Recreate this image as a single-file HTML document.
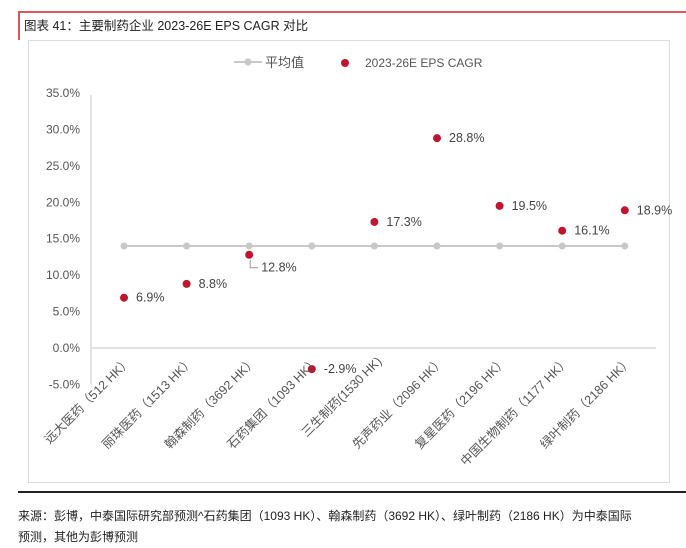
<!DOCTYPE html>
<html><head><meta charset="utf-8"><style>
body{margin:0;width:686px;height:547px;background:#fff;font-family:"Liberation Sans","Noto Sans CJK SC",sans-serif;position:relative;overflow:hidden}
.abs{position:absolute}
</style></head><body>
<div class="abs" style="left:18px;top:11px;width:668px;height:2px;background:#d9595c"></div>
<div class="abs" style="left:18px;top:11px;width:2px;height:29px;background:#d9595c"></div>
<div class="abs" style="left:24px;top:15px;font-size:12.5px;color:#222">图表 41：主要制药企业 2023-26E EPS CAGR 对比</div>
<div class="abs" style="left:28px;top:40px;width:642px;height:443px;border:1px solid #ddd;box-sizing:border-box"></div>
<svg class="abs" style="left:0;top:0" width="686" height="547" id="chart"></svg>
<div class="abs" style="left:18px;top:491px;width:668px;height:1.5px;background:#222"></div>
<div class="abs" style="left:18px;top:506px;width:668px;font-size:12px;line-height:21px;color:#222;white-space:nowrap">来源：彭博，中泰国际研究部预测^石药集团（1093 HK）、翰森制药（3692 HK）、绿叶制药（2186 HK）为中泰国际<br>预测，其他为彭博预测</div>
<script>
const categories=["远大医药（512 HK）","丽珠医药（1513 HK）","翰森制药（3692 HK）","石药集团（1093 HK）","三生制药(1530 HK)","先声药业（2096 HK）","复星医药（2196 HK）","中国生物制药（1177 HK）","绿叶制药（2186 HK）"];
const cagr=[6.9,8.8,12.8,-2.9,17.3,28.8,19.5,16.1,18.9];
const avg=[14.0,14.0,14.0,14.0,14.0,14.0,14.0,14.0,14.0];
const yTicks=[-5,0,5,10,15,20,25,30,35];
const svg=document.getElementById('chart');const NS='http://www.w3.org/2000/svg';
function mk(t,a,txt){const e=document.createElementNS(NS,t);for(const k in a)e.setAttribute(k,a[k]);if(txt!=null)e.textContent=txt;svg.appendChild(e);return e;}
const y=v=>348-v*7.286;
const x=i=>124+i*62.6;
yTicks.forEach(t=>{const e=mk('text',{x:80,y:y(t)+4,'text-anchor':'end','font-size':12,fill:'#555'},t.toFixed(1)+'%');

});
let a=mk('line',{x1:91,y1:y(35)+2,x2:91,y2:y(-5),stroke:'#d9d9d9','stroke-width':1.5});

a=mk('line',{x1:91,y1:y(0),x2:656,y2:y(0),stroke:'#d9d9d9','stroke-width':1.5});

let l=mk('polyline',{points:avg.map((v,i)=>x(i)+','+y(v)).join(' '),fill:'none',stroke:'#c8c8c8','stroke-width':2});

avg.forEach((v,i)=>{const c=mk('circle',{cx:x(i),cy:y(v),r:3.5,fill:'#c8c8c8'});

});
cagr.forEach((v,i)=>{const c=mk('circle',{cx:x(i),cy:y(v),r:4,fill:'#c0152f'});


let lx=x(i)+12,ly=y(v)+4;
if(i===2){lx=x(i)+12;ly=y(v)+17;mk('polyline',{points:`${x(i)+1},${y(v)+5} ${x(i)+1},${y(v)+13} ${x(i)+9},${y(v)+13}`,fill:'none',stroke:'#999','stroke-width':1});}
const t=mk('text',{x:lx,y:ly,'font-size':12.5,fill:'#444'},v.toFixed(1)+'%');

});
categories.forEach((c,i)=>{const t=mk('text',{x:x(i)+8,y:362,'text-anchor':'end','font-size':12.5,fill:'#555',transform:`rotate(-45 ${x(i)+8} 362)`},c);

});
let g=mk('line',{x1:234,y1:62,x2:262,y2:62,stroke:'#c8c8c8','stroke-width':2});

mk('circle',{cx:248,cy:62,r:3.5,fill:'#c8c8c8'});
g=mk('text',{x:265,y:67,'font-size':13,fill:'#555'},'平均值');

mk('circle',{cx:345,cy:63,r:4,fill:'#c0152f'});
g=mk('text',{x:365,y:67,'font-size':12,fill:'#555'},'2023-26E EPS CAGR');

</script>
</body></html>
